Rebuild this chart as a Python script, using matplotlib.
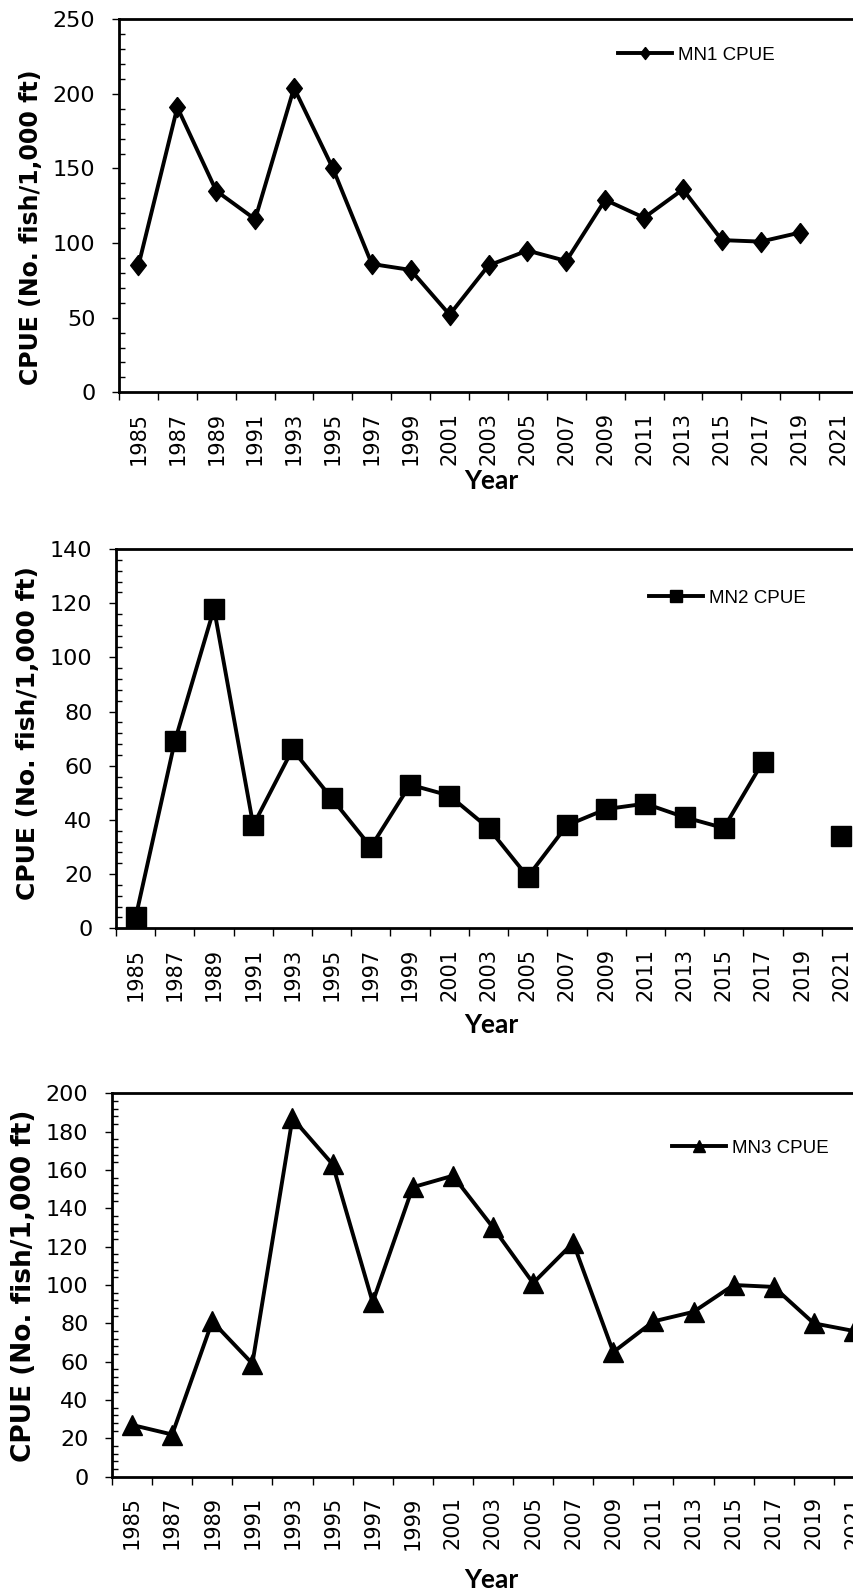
import numpy as np
import matplotlib.pyplot as plt
from matplotlib.ticker import MultipleLocator

# Данные
years = [1985, 1987, 1989, 1991, 1993, 1995, 1997, 1999, 2001, 2003,
         2005, 2007, 2009, 2011, 2013, 2015, 2017, 2019, 2021]
mn1 = [85, 191, 135, 116, 204, 150, 86, 82, 52, 85,
       95, 88, 129, 117, 136, 102, 101, 107, np.nan]
mn2 = [4, 69, 118, 38, 66, 48, 30, 53, 49, 37,
       19, 38, 44, 46, 41, 37, 61.5, np.nan, 34]
mn3 = [27, 22, 81, 59, 187, 163, 91, 151, 157, 130,
       101, 122, 65, 81, 86, 100, 99, 80, 76]

W, H = 854, 1595
fig = plt.figure(figsize=(W / 100, H / 100), dpi=100)


def fx(px):
    return px / W


def fy(py):
    return 1 - py / H


# вытянутый ромб, как в Excel
diamond = [(0, 1), (0.78, 0), (0, -1), (-0.78, 0), (0, 1)]

# left, top, bottom, right (pixels), series, marker, ylim, major, minor, legend pos, label sizes
panels = [
    (119, 19.3, 392.3, 858, mn1, diamond, 14.5, 250, 50, 10, "MN1 CPUE", (618, 55), (31, 227), 481, 17),
    (116, 549, 928.3, 861, mn2, "s", 14, 140, 20, 4, "MN2 CPUE", (649, 598), (28, 733), 1025, 18),
    (112, 1093.3, 1476.7, 874, mn3, "^", 15, 200, 20, 4, "MN3 CPUE", (672, 1148), (24, 1286), 1580, 19),
]

for (l, t, b, r, y, mk, ms, ymax, major, minor, name, lpos, ylpos, xly, ylsize) in panels:
    ax = fig.add_axes([fx(l), fy(b), (r - l) / W, (b - t) / H])
    ax.plot(years, y, "k-", marker=mk, markersize=ms, lw=2.8, label=name)

    ax.set_xlim(1984, 2022)
    ax.set_ylim(0, ymax)

    # Ось X: засечки на границах категорий, подписи по центру
    ax.set_xticks(np.arange(1984, 2023, 2))
    ax.set_xticklabels([])
    ax.set_xticks(years, minor=True)
    ax.set_xticklabels([str(v) for v in years], minor=True, rotation=90,
                       fontsize=15, family="DejaVu Sans")
    ax.tick_params(axis="x", which="major", direction="out", length=6, width=1)
    ax.tick_params(axis="x", which="minor", length=0, pad=14)

    # Ось Y
    ax.yaxis.set_major_locator(MultipleLocator(major))
    ax.yaxis.set_minor_locator(MultipleLocator(minor))
    ax.tick_params(axis="y", which="major", direction="out", length=5, width=1,
                   labelsize=16, pad=12)
    ax.tick_params(axis="y", which="minor", direction="in", length=4.5, width=1)
    for lab in ax.get_yticklabels():
        lab.set_family("DejaVu Sans")

    for s in ["left", "bottom", "top"]:
        ax.spines[s].set_linewidth(2)
    ax.spines["right"].set_visible(False)

    # Подписи
    fig.text(fx(ylpos[0]), fy(ylpos[1]), "CPUE (No. fish/1,000 ft)", rotation=90,
             ha="center", va="center", fontsize=ylsize, fontweight="bold",
             family="DejaVu Sans")
    fig.text(fx(491), fy(xly), "Year", ha="center", va="center",
             fontsize=19, fontweight="bold", family="Lato")

    ax.legend(loc="center left", bbox_to_anchor=(fx(lpos[0]), fy(lpos[1])),
              bbox_transform=fig.transFigure, frameon=False, borderpad=0,
              borderaxespad=0, handlelength=2.9, handletextpad=0.3,
              markerscale=0.6, prop={"family": "Liberation Sans", "size": 13.5})

# Сохраняем график
plt.savefig("out.png", dpi=100)
